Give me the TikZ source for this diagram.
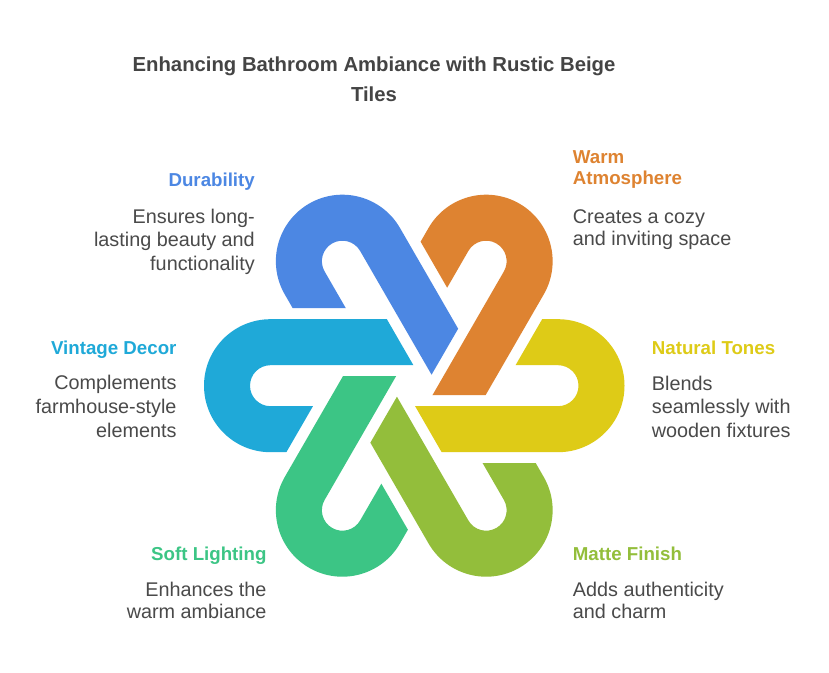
\documentclass[tikz,border=0pt]{standalone}
\usepackage{fontspec}
\setmainfont{Liberation Sans}
\definecolor{cBlue}{HTML}{4C87E3}
\definecolor{cOrange}{HTML}{DE8331}
\definecolor{cYellow}{HTML}{DECB17}
\definecolor{cCyan}{HTML}{1FA9D8}
\definecolor{cGreen}{HTML}{3CC585}
\definecolor{cLime}{HTML}{93BE3B}
\definecolor{cText}{HTML}{4A4A4A}
\definecolor{cTitle}{HTML}{444444}
\tikzset{
  titletext/.style={font=\fontsize{20.3}{24}\selectfont\bfseries, text=cTitle, inner sep=0pt, anchor=base},
  headR/.style={font=\fontsize{18.7}{22}\selectfont\bfseries, inner sep=0pt, anchor=base east},
  headL/.style={font=\fontsize{18.7}{22}\selectfont\bfseries, inner sep=0pt, anchor=base west},
  bodyR/.style={font=\fontsize{19.8}{22}\selectfont, text=cText, inner sep=0pt, anchor=base east},
  bodyL/.style={font=\fontsize{19.8}{22}\selectfont, text=cText, inner sep=0pt, anchor=base west},
}
\newcommand{\hookshape}{(127.9,66.5) -- (143.75,66.5) arc[start angle=90, end angle=-90, radius=66.5] -- (27.4,-66.5) -- (0.87,-20.5) -- (143.75,-20.5) arc[start angle=-90, end angle=90, radius=20.5] -- (101.3,20.5) -- cycle}
\begin{document}
\begin{tikzpicture}[x=1pt,y=1pt]
\useasboundingbox (0,0) rectangle (829,672);
\fill[white] (0,0) rectangle (829,672);
% shapes
\foreach \ang/\col in {0/cYellow,60/cOrange,120/cBlue,180/cCyan,240/cGreen,300/cLime}{
  \begin{scope}[shift={(414.25,286.3)}, rotate=\ang]
    \fill[\col] \hookshape;
  \end{scope}
}
% title
\node[titletext] (t1) at (374,600.3) {Enhancing Bathroom Ambiance with Rustic Beige};
\node[titletext] (t2) at (374,570.3) {Tiles};
% Durability
\node[headR, text=cBlue] (h1) at (255,485) {Durability};
\node[bodyR] (b11) at (255,448.5) {Ensures long-};
\node[bodyR] (b12) at (255,425) {lasting beauty and};
\node[bodyR] (b13) at (255,401.5) {functionality};
% Warm Atmosphere
\node[headL, text=cOrange] (h2a) at (572.7,508.7) {Warm};
\node[headL, text=cOrange] (h2b) at (572.7,487) {Atmosphere};
\node[bodyL] (b21) at (572.7,448) {Creates a cozy};
\node[bodyL] (b22) at (572.7,426) {and inviting space};
% Vintage Decor
\node[headR, text=cCyan] (h3) at (176.7,317) {Vintage Decor};
\node[bodyR] (b31) at (176.7,282) {Complements};
\node[bodyR] (b32) at (176.7,258.7) {farmhouse-style};
\node[bodyR] (b33) at (176.7,234.7) {elements};
% Natural Tones
\node[headL, text=cYellow] (h4) at (651.7,317) {Natural Tones};
\node[bodyL] (b41) at (651.7,281.3) {Blends};
\node[bodyL] (b42) at (651.7,258) {seamlessly with};
\node[bodyL] (b43) at (651.7,234.7) {wooden fixtures};
% Soft Lighting
\node[headR, text=cGreen] (h5) at (266.7,112) {Soft Lighting};
\node[bodyR] (b51) at (266.7,75.3) {Enhances the};
\node[bodyR] (b52) at (266.7,53.7) {warm ambiance};
% Matte Finish
\node[headL, text=cLime] (h6) at (572.7,112) {Matte Finish};
\node[bodyL] (b61) at (572.7,75.5) {Adds authenticity};
\node[bodyL] (b62) at (572.7,53.5) {and charm};
\end{tikzpicture}
\end{document}
